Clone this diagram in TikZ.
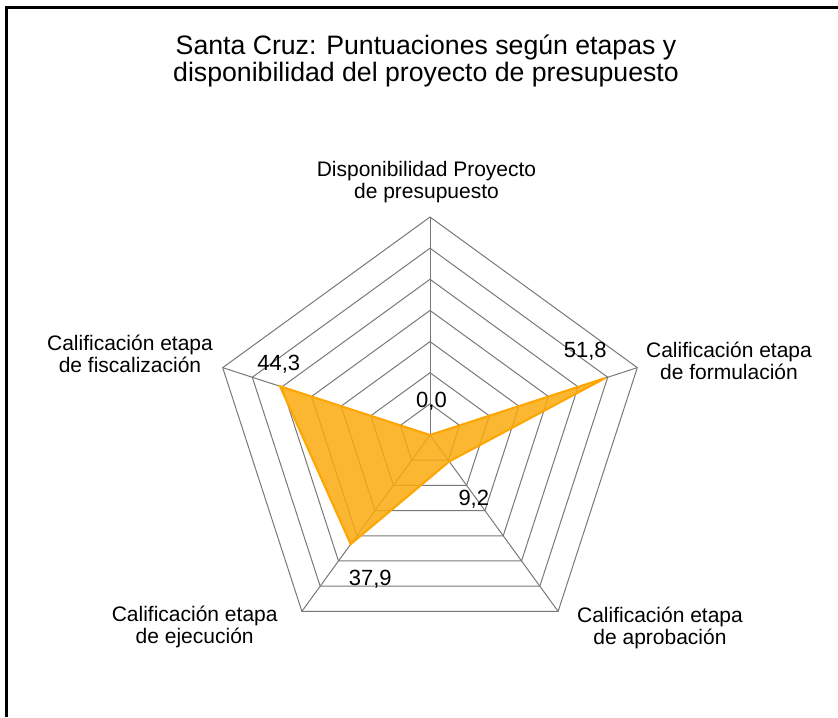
\documentclass[tikz,border=0pt]{standalone}
\usepackage{fontspec}
\setmainfont{Liberation Sans}
\usetikzlibrary{positioning}
\definecolor{gris}{RGB}{120,120,120}
\definecolor{naranja}{RGB}{255,165,0}
\definecolor{relleno}{RGB}{250,170,14}
\newcommand{\escala}{3.56}
\newcommand{\anillo}{31.14}

\begin{document}
\begin{tikzpicture}[x=0.75pt,y=-0.75pt,
              marco/.style={line width=2pt, black},
              rejilla/.style={gris, line width=0.75pt},
              serie/.style={draw=naranja, line width=1.5pt, fill=relleno, fill opacity=0.85},
              categoria/.style={font=\fontsize{15.75}{16.5}\selectfont, align=center, inner sep=0pt},
              valor/.style={font=\fontsize{16.5}{17}\selectfont, inner sep=0pt, anchor=base},
             ]
\useasboundingbox (0,0) rectangle (838,717);
\draw[marco] (6.5,717) -- (6.5,7.5) -- (838,7.5);
\node[font=\fontsize{20}{20.5}\selectfont, align=center, inner sep=0pt] (titulo) at (426,61)
  {Santa Cruz: Puntuaciones según etapas y\\disponibilidad del proyecto de presupuesto};

% rejilla del radar
\begin{scope}[shift={(430,435)}, x=0.75pt, y=0.75pt]
\coordinate (centro) at (0,0);
\foreach \r in {1,...,7}
  \draw[rejilla] (90:\r*\anillo) -- (18:\r*\anillo) -- (-54:\r*\anillo)
     -- (-126:\r*\anillo) -- (162:\r*\anillo) -- cycle;
\foreach \a/\n in {90/disp, 18/form, -54/apro, -126/ejec, 162/fisc}
  \draw[rejilla] (centro) -- (\a:7*\anillo) coordinate (\n);
% serie
\draw[serie] (90:0*\escala) coordinate (vdisp) -- (18:51.8*\escala) coordinate (vform)
   -- (-54:9.2*\escala) coordinate (vapro) -- (-126:37.9*\escala) coordinate (vejec)
   -- (162:44.3*\escala) coordinate (vfisc) -- cycle;
\end{scope}

% etiquetas de valores
\node[valor] (n-disp) at (431.5,407) {0,0};
\node[valor] (n-form) at (585.3,357) {51,8};
\node[valor] (n-apro) at (473.8,505) {9,2};
\node[valor] (n-ejec) at (370.3,585.5) {37,9};
\node[valor] (n-fisc) at (278.7,370) {44,3};

% categorias
\node[categoria] (c-disp) at (426.5,181.7) {Disponibilidad Proyecto\\de presupuesto};
\node[categoria] (c-form) at (729,361) {Calificación etapa\\de formulación};
\node[categoria] (c-apro) at (660,628) {Calificación etapa\\de aprobación};
\node[categoria] (c-ejec) at (194.7,627) {Calificación etapa\\de ejecución};
\node[categoria] (c-fisc) at (130,354) {Calificación etapa\\de fiscalización};
\end{tikzpicture}
\end{document}
